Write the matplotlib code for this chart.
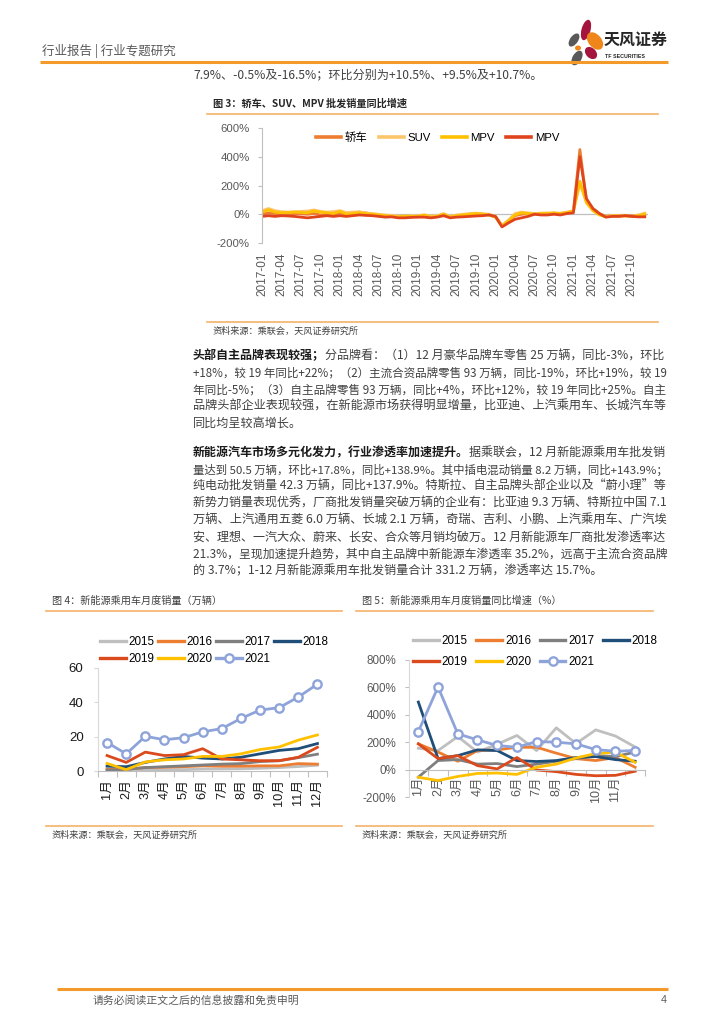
import matplotlib
matplotlib.use("Agg")
import matplotlib.pyplot as plt
import numpy as np
from matplotlib.patches import Ellipse
from matplotlib.ticker import FuncFormatter, FixedLocator

W, H = 724, 1024
CJK = ["Noto Sans CJK SC", "DejaVu Sans"]
NUM = ["Liberation Sans", "Noto Sans CJK SC", "DejaVu Sans"]
plt.rcParams["font.family"] = CJK

# ---------------- data: figure 3 (YoY growth by body type, %) ----------------
month_labels = [f"{y}-{m:02d}" for y in range(2017, 2022) for m in range(1, 13)]

sedan = [0, 10, 5, 3, 0, 5, 3, 0, 5, -5, 0, 0,
         10, -5, 0, 5, 10, 0, -5, -10, -15, -15, -20, -15,
         -18, -10, -20, -15, -5, -20, -10, -5, -5, 0, 0, -5,
         -20, -80, -48, -10, 0, 5, 5, 5, 5, 8, 5, 10,
         25, 450, 100, 40, 5, -15, -10, -10, -10, -12, -8, -12]
suv = [25, 40, 25, 18, 15, 18, 20, 22, 30, 20, 15, 18,
       25, 12, 15, 18, 8, 5, 0, -5, -8, -12, -15, -10,
       -10, -5, -12, -10, 5, -15, -5, 0, 5, 8, 5, 0,
       -15, -75, -40, 5, 15, 10, 5, 8, 10, 5, 8, 15,
       25, 210, 90, 30, 0, -15, -10, -12, -10, -15, -5, 8]
mpv_a = [15, 30, 15, 10, 12, 15, 12, 10, 22, 15, 10, 5,
         20, 0, 5, 10, 5, 0, -5, -10, -15, -18, -12, -15,
         -15, -5, -20, -15, 0, -20, -10, -5, 0, 5, 0, -5,
         -20, -85, -45, -5, 10, 5, 0, 5, 5, 10, 5, 12,
         20, 230, 80, 25, -5, -18, -12, -12, -12, -15, -10, 0]
mpv_b = [-15, -10, -15, -10, -12, -15, -20, -25, -20, -15, -10, -15,
         -10, -15, -10, -5, -8, -10, -15, -20, -18, -25, -25, -22,
         -20, -20, -25, -20, -10, -25, -20, -18, -15, -12, -10, -5,
         -15, -88, -60, -35, -25, -15, 0, -5, -5, 0, -5, 5,
         10, 400, 110, 40, 5, -20, -15, -15, -10, -15, -18, -18]
fig3_names = ["轿车", "SUV", "MPV", "MPV"]
fig3_colors = ["#ED7D31", "#FBC56B", "#FFC000", "#E0441C"]

# ---------------- data: figure 4 / 5 (NEV monthly sales & YoY) ----------------
month_cn = [f"{m}月" for m in range(1, 13)]
years = ["2015", "2016", "2017", "2018", "2019", "2020", "2021"]
year_colors = ["#BFBFBF", "#ED7D31", "#7F7F7F", "#1F4E79", "#DB4A1C", "#FFC000", "#8EA3D9"]

sales_2015 = [0.3, 0.4, 0.6, 0.7, 0.8, 1.1, 1.2, 1.3, 1.6, 2.0, 2.6, 3.4]
sales_2016 = [1.0, 1.0, 2.0, 2.2, 2.5, 3.0, 2.8, 2.8, 3.0, 3.0, 4.3, 4.0]
sales_2017 = [0.5, 1.0, 2.0, 2.5, 3.0, 3.5, 4.0, 4.3, 5.5, 6.0, 7.8, 9.8]
sales_2018 = [2.8, 2.5, 5.0, 7.0, 8.5, 7.5, 7.0, 8.0, 10.0, 12.0, 13.0, 16.0]
sales_2019 = [9.0, 5.0, 11.0, 9.0, 9.5, 13.0, 7.0, 6.5, 6.0, 6.0, 8.0, 13.8]
sales_2020 = [4.4, 0.8, 5.3, 6.5, 7.0, 8.5, 8.5, 10.0, 12.5, 14.0, 18.0, 21.0]
sales_2021 = [16.6, 10.0, 20.2, 18.2, 19.4, 22.8, 24.7, 30.6, 35.5, 36.9, 43.1, 50.6]

yoy_2015 = [156, 139, 241, 128, 185, 249, 139, 305, 190, 290, 245, 165]
yoy_2016 = [188, 128, 61, 139, 144, 163, 163, 120, 80, 66, 88, 17]
yoy_2017 = [-55, 66, 73, 40, 44, 22, 40, 61, 80, 102, 95, 128]
yoy_2018 = [493, 80, 102, 144, 139, 66, 59, 66, 88, 95, 73, 61]
yoy_2019 = [188, 80, 102, 29, 5, 88, -3, -15, -35, -45, -42, -12]
yoy_2020 = [-56, -80, -50, -28, -25, -35, 17, 40, 85, 117, 127, 53]
yoy_2021 = [278, 603, 261, 217, 176, 163, 205, 200, 188, 146, 134, 139]

sales = [sales_2015, sales_2016, sales_2017, sales_2018, sales_2019, sales_2020, sales_2021]
yoy = [yoy_2015, yoy_2016, yoy_2017, yoy_2018, yoy_2019, yoy_2020, yoy_2021]

# ---------------- text ----------------
TXT = "#404040"
ORANGE = "#F39A2B"
LIGHT = "#F6B26B"
FS = 8.7
line_gap = 16.8
TEXT_X0, TEXT_X1 = 193, 668

para2 = [
    [("头部自主品牌表现较强；", True), ("分品牌看：（1）12 月豪华品牌车零售 25 万辆，同比-3%，环比", False)],
    [("+18%，较 19 年同比+22%；（2）主流合资品牌零售 93 万辆，同比-19%，环比+19%，较 19", False)],
    [("年同比-5%；（3）自主品牌零售 93 万辆，同比+4%，环比+12%，较 19 年同比+25%。自主", False)],
    [("品牌头部企业表现较强，在新能源市场获得明显增量，比亚迪、上汽乘用车、长城汽车等", False)],
    [("同比均呈较高增长。", False)],
]
para3 = [
    [("新能源汽车市场多元化发力，行业渗透率加速提升。", True), ("据乘联会，12 月新能源乘用车批发销", False)],
    [("量达到 50.5 万辆，环比+17.8%，同比+138.9%。其中插电混动销量 8.2 万辆，同比+143.9%；", False)],
    [("纯电动批发销量 42.3 万辆，同比+137.9%。特斯拉、自主品牌头部企业以及“蔚小理”等", False)],
    [("新势力销量表现优秀，厂商批发销量突破万辆的企业有：比亚迪 9.3 万辆、特斯拉中国 7.1", False)],
    [("万辆、上汽通用五菱 6.0 万辆、长城 2.1 万辆，奇瑞、吉利、小鹏、上汽乘用车、广汽埃", False)],
    [("安、理想、一汽大众、蔚来、长安、合众等月销均破万。12 月新能源车厂商批发渗透率达", False)],
    [("21.3%，呈现加速提升趋势，其中自主品牌中新能源车渗透率 35.2%，远高于主流合资品牌", False)],
    [("的 3.7%；1-12 月新能源乘用车批发销量合计 331.2 万辆，渗透率达 15.7%。", False)],
]


def add_axes_px(fig, x0, y0, x1, y1):
    ax = fig.add_axes([x0 / W, 1 - y1 / H, (x1 - x0) / W, (y1 - y0) / H])
    ax.set_facecolor("none")
    return ax


fig = plt.figure(figsize=(W / 100, H / 100), dpi=100)
renderer = fig.canvas.get_renderer()

page = fig.add_axes([0, 0, 1, 1])
page.set_xlim(0, W)
page.set_ylim(H, 0)
page.axis("off")

# header
page.plot([40, 668], [62, 62], color=ORANGE, lw=2.2, solid_capstyle="butt")
page.text(42, 51, "行业报告 | 行业专题研究", fontsize=9.0, color="#595959", va="center")
for cx, cy, w, h, ang, col in [(586, 30, 9, 21, 15, "#A5143C"), (595, 41, 13, 20, -40, "#F08519"),
                               (574, 40, 8, 15, 35, "#595959"), (578, 48, 6, 5, 0, "#F08519"),
                               (591, 53, 10, 14, -45, "#A5143C"), (577, 58, 9, 16, 30, "#595959")]:
    page.add_patch(Ellipse((cx, cy), w, h, angle=ang, color=col, lw=0))
page.text(604, 40, "天风证券", fontsize=11.5, fontweight="bold", color="#262626", va="center")
page.text(605, 56, "TF SECURITIES", fontsize=3.8, fontweight="bold", color="#262626", va="center",
          family=NUM)

# footer
page.plot([57, 668], [989, 989], color=ORANGE, lw=2.2, solid_capstyle="butt")
page.text(93, 1000, "请务必阅读正文之后的信息披露和免责申明", fontsize=7.8, color="#595959", va="center")
page.text(667, 1000, "4", fontsize=7.8, color="#595959", va="center", ha="right", family=NUM)


def draw_segments(y, segments, fs):
    x = TEXT_X0
    made = []
    for s, bold in segments:
        t = page.text(x, y, s, fontsize=fs, color="#1a1a1a" if bold else TXT,
                      fontweight="bold" if bold else "normal", va="center", ha="left")
        x += t.get_window_extent(renderer).width
        made.append(t)
    return made, x - TEXT_X0


def body_line(y, segments, justify=True):
    made, width = draw_segments(y, segments, FS)
    if not justify:
        return
    # full lines of the original are justified: fit the line to the text column
    fs = float(np.clip(FS * (TEXT_X1 - TEXT_X0) / width, 8.0, 9.2))
    for t in made:
        t.remove()
    draw_segments(y, segments, fs)


body_line(75, [("7.9%、-0.5%及-16.5%；环比分别为+10.5%、+9.5%及+10.7%。", False)], justify=False)
for i, segs in enumerate(para2):
    body_line(356 + i * line_gap, segs, justify=i < len(para2) - 1)
for i, segs in enumerate(para3):
    body_line(453 + i * line_gap, segs, justify=i < len(para3) - 1)


def caption(x0, x1, ytitle, ysrc, title, bold):
    page.text(x0 + 6, ytitle, title, fontsize=7.3, color="#262626" if bold else TXT,
              fontweight="bold" if bold else "normal", va="center")
    page.plot([x0, x1], [ytitle + 10, ytitle + 10], color=LIGHT, lw=1.2)
    page.plot([x0, x1], [ysrc - 9, ysrc - 9], color=LIGHT, lw=1.2)
    page.text(x0 + 6, ysrc, "资料来源：乘联会，天风证券研究所", fontsize=6.6, color=TXT, va="center")


caption(207, 658, 104, 331, "图 3：轿车、SUV、MPV 批发销量同比增速", True)
caption(46, 342, 601, 835, "图 4：新能源乘用车月度销量（万辆）", False)
caption(356, 653, 601, 835, "图 5：新能源乘用车月度销量同比增速（%）", False)

pct = FuncFormatter(lambda v, p: f"{v:.0f}%")

# ---------------- figure 3 ----------------
ax3 = add_axes_px(fig, 262, 128, 648, 243)
x3 = np.arange(len(month_labels))
for vals, name, col in zip([sedan, suv, mpv_a, mpv_b], fig3_names, fig3_colors):
    ax3.plot(x3, vals, color=col, lw=2.0, label=name)
ax3.axhline(0, color="#BFBFBF", lw=0.9, zorder=0)
ax3.set_xlim(0, 59.5)
ax3.set_ylim(-200, 600)
ax3.set_yticks([-200, 0, 200, 400, 600])
ax3.yaxis.set_major_formatter(pct)
ax3.set_xticks(x3[::3])
ax3.set_xticklabels(month_labels[::3], rotation=90, family=NUM)
ax3.tick_params(axis="x", length=0, pad=7, labelsize=8.5, labelcolor="#595959")
ax3.tick_params(axis="y", length=3, width=0.8, color="#BFBFBF", pad=6, labelsize=8.2,
                labelcolor="#595959")
for lab in ax3.get_yticklabels():
    lab.set_family(NUM)
for sp in ["top", "right", "bottom"]:
    ax3.spines[sp].set_visible(False)
ax3.spines["left"].set_color("#BFBFBF")
leg3 = ax3.legend(ncol=4, loc="center left", bbox_to_anchor=(316 / W, 1 - 138 / H),
                  bbox_transform=fig.transFigure, frameon=False, handlelength=2.2,
                  handletextpad=0.3, columnspacing=1.0, borderpad=0, borderaxespad=0,
                  prop={"family": NUM, "size": 8.2})
for h in leg3.get_lines():
    h.set_linewidth(2.6)


def legend_rowwise(ax, anchor, labelspacing, columnspacing):
    hs, ls = ax.get_legend_handles_labels()
    order = [0, 4, 1, 5, 2, 6, 3]
    leg = ax.legend([hs[i] for i in order], [ls[i] for i in order], ncol=4, loc="upper left",
                    bbox_to_anchor=(anchor[0] / W, 1 - anchor[1] / H),
                    bbox_transform=fig.transFigure, frameon=False, handlelength=2.2,
                    handletextpad=0.25, columnspacing=columnspacing, labelspacing=labelspacing,
                    borderpad=0, borderaxespad=0, prop={"family": NUM, "size": 8.4})
    for h in leg.get_lines():
        h.set_linewidth(2.4)


def style_months(ax, labels, color, size, pad):
    n = 12
    ax.set_xlim(-0.5, n - 0.5)
    ax.set_xticks(np.arange(len(labels)))
    ax.set_xticklabels(labels, rotation=90, family=NUM)
    ax.xaxis.set_minor_locator(FixedLocator(np.arange(n + 1) - 0.5))
    ax.tick_params(axis="x", which="major", length=0, pad=pad, labelsize=size, labelcolor=color)
    ax.tick_params(axis="x", which="minor", length=4, width=0.8, color="#BFBFBF")
    for sp in ["top", "right"]:
        ax.spines[sp].set_visible(False)
    ax.spines["left"].set_color("#D9D9D9")
    ax.spines["bottom"].set_color("#BFBFBF")


# ---------------- figure 4 ----------------
ax4 = add_axes_px(fig, 97.5, 668, 327, 771)
xm = np.arange(12)
for vals, yr, col in zip(sales, years, year_colors):
    if yr == "2021":
        ax4.plot(xm, vals, color=col, lw=2.0, marker="o", ms=6, mfc="white", mew=1.7, label=yr,
                 zorder=5)
    else:
        ax4.plot(xm, vals, color=col, lw=2.0, label=yr)
ax4.set_ylim(0, 60)
ax4.set_yticks([0, 20, 40, 60])
style_months(ax4, month_cn, "#1a1a1a", 9.2, 6)
ax4.tick_params(axis="y", length=3, width=0.8, color="#D9D9D9", pad=7, labelsize=9.5,
                labelcolor="#1a1a1a")
for lab in ax4.get_yticklabels():
    lab.set_family(NUM)
legend_rowwise(ax4, (100, 636), 0.45, 0.3)

# ---------------- figure 5 ----------------
ax5 = add_axes_px(fig, 408.5, 660, 645, 797)
ax5.spines["bottom"].set_position(("data", 0))
for vals, yr, col in zip(yoy, years, year_colors):
    if yr == "2021":
        ax5.plot(xm, vals, color=col, lw=2.0, marker="o", ms=6, mfc="white", mew=1.7, label=yr,
                 zorder=5)
    else:
        ax5.plot(xm, vals, color=col, lw=2.0, label=yr)
ax5.set_ylim(-200, 800)
ax5.set_yticks([-200, 0, 200, 400, 600, 800])
ax5.yaxis.set_major_formatter(pct)
style_months(ax5, month_cn[:11], "#595959", 9.0, 5)
ax5.tick_params(axis="y", length=3, width=0.8, color="#BFBFBF", pad=6, labelsize=8.4,
                labelcolor="#595959")
for lab in ax5.get_yticklabels():
    lab.set_family(NUM)
legend_rowwise(ax5, (413, 635), 0.8, 0.75)

fig.savefig("out.png", dpi=100)
